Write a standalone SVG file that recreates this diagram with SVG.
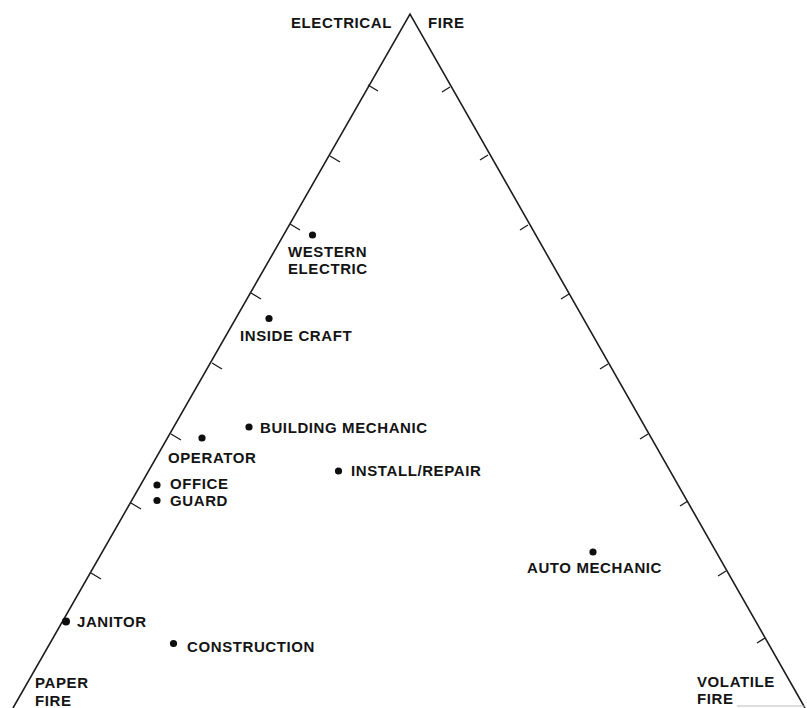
<svg xmlns="http://www.w3.org/2000/svg" width="807" height="708" viewBox="0 0 807 708">
<style>
text{font-family:"Liberation Sans",Arial,sans-serif;font-size:15px;font-weight:bold;letter-spacing:0.6px;fill:#141414}
.edge{stroke:#1e1e1e;stroke-width:1.6;fill:none}
.tick{stroke:#1e1e1e;stroke-width:1.4;fill:none}
.dot{fill:#0e0e0e}
</style>
<rect width="807" height="708" fill="#fff"/>
<g id="triangle">
<path class="edge" d="M13,708 L410,14 L805,708"/>
<line x1="737" y1="706" x2="805" y2="706" stroke="#bbb" stroke-width="1"/>
</g>
<g id="ticks">
<path class="tick" d="M368,85 l10,6 M330,156 l10,6 M290,224 l10,6 M251,293 l10,6 M212,363 l10,6 M171,434 l10,6 M131,503 l10,6 M91,573 l10,6"/>
<path class="tick" d="M450,87 l-8,5 M488,155 l-8,5 M528,225 l-8,5 M569,294 l-8,5 M608,364 l-8,5 M648,434 l-8,5 M688,501 l-8,5 M726,571 l-8,5 M765,638 l-8,5"/>
</g>
<g id="corner-electrical">
<text x="392" y="28" text-anchor="end">ELECTRICAL</text>
<text x="428" y="28">FIRE</text>
</g>
<g id="corner-paper">
<text x="35" y="688">PAPER</text>
<text x="35" y="706">FIRE</text>
</g>
<g id="corner-volatile">
<text x="697" y="687">VOLATILE</text>
<text x="697" y="704">FIRE</text>
</g>
<g id="western-electric">
<circle class="dot" cx="312.5" cy="235" r="3.6"/>
<text x="288" y="257">WESTERN</text>
<text x="288" y="274">ELECTRIC</text>
</g>
<g id="inside-craft">
<circle class="dot" cx="269" cy="318.5" r="3.6"/>
<text x="240" y="341">INSIDE CRAFT</text>
</g>
<g id="building-mechanic">
<circle class="dot" cx="249" cy="427" r="3.6"/>
<text x="260" y="433">BUILDING MECHANIC</text>
</g>
<g id="operator">
<circle class="dot" cx="202" cy="438" r="3.6"/>
<text x="168" y="463">OPERATOR</text>
</g>
<g id="install-repair">
<circle class="dot" cx="338.5" cy="471" r="3.6"/>
<text x="351" y="476">INSTALL/REPAIR</text>
</g>
<g id="office">
<circle class="dot" cx="157" cy="485" r="3.6"/>
<text x="170" y="489">OFFICE</text>
</g>
<g id="guard">
<circle class="dot" cx="157" cy="500.5" r="3.6"/>
<text x="170" y="506">GUARD</text>
</g>
<g id="auto-mechanic">
<circle class="dot" cx="593" cy="552" r="3.6"/>
<text x="527" y="573">AUTO MECHANIC</text>
</g>
<g id="janitor">
<circle class="dot" cx="66" cy="621.5" r="4"/>
<text x="77" y="627">JANITOR</text>
</g>
<g id="construction">
<circle class="dot" cx="173.5" cy="643.5" r="3.6"/>
<text x="187" y="652">CONSTRUCTION</text>
</g>
</svg>
